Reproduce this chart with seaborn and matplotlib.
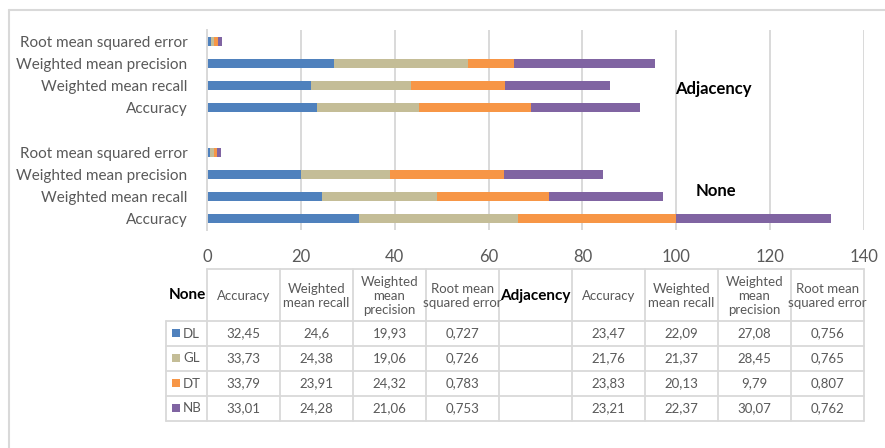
""" Stacked bar chart of model scores with a data table below """

import pandas as pd
import numpy as np
import matplotlib
matplotlib.use("Agg")
import matplotlib.pyplot as plt
import seaborn as sns

metrics = ["Accuracy", "Weighted mean recall", "Weighted mean precision", "Root mean squared error"]
models = ["DL", "GL", "DT", "NB"]
groups = ["None", "Adjacency"]

none_DL = [32.45, 24.6, 19.93, 0.727]
none_GL = [33.73, 24.38, 19.06, 0.726]
none_DT = [33.79, 23.91, 24.32, 0.783]
none_NB = [33.01, 24.28, 21.06, 0.753]

adj_DL = [23.47, 22.09, 27.08, 0.756]
adj_GL = [21.76, 21.37, 28.45, 0.765]
adj_DT = [23.83, 20.13, 9.79, 0.807]
adj_NB = [23.21, 22.37, 30.07, 0.762]

colors = {"DL": "#4F81BD", "GL": "#C4BD97", "DT": "#F79646", "NB": "#8064A2"}
grey = "#595959"
line_col = "#d9d9d9"

values = {
    "None": {"DL": none_DL, "GL": none_GL, "DT": none_DT, "NB": none_NB},
    "Adjacency": {"DL": adj_DL, "GL": adj_GL, "DT": adj_DT, "NB": adj_NB},
}

# Long dataframe with running totals for stacking
rows = []
for g in groups:
    cum = np.zeros(len(metrics))
    for m in models:
        cum = cum + np.array(values[g][m])
        for i, met in enumerate(metrics):
            rows.append({"key": g + "|" + met, "group": g, "metric": met,
                         "model": m, "value": values[g][m][i], "cum": cum[i]})
df = pd.DataFrame(rows)

# Order on the y axis (top to bottom), blank slot between groups
order = ["Adjacency|" + m for m in metrics[::-1]] + [" "] + ["None|" + m for m in metrics[::-1]]
ylabels = [k.split("|")[-1] if "|" in k else "" for k in order]

sns.set_theme(style="white")
plt.rcParams["font.family"] = ["Lato", "DejaVu Sans"]

W, H = 885, 448
fig = plt.figure(figsize=(W / 100, H / 100), dpi=100)

x0, x1, ytop, ybot = 207, 864, 30, 230
ax = fig.add_axes([x0 / W, 1 - ybot / H, (x1 - x0) / W, (ybot - ytop) / H])

# Draw largest running total first so the smaller ones sit on top
for m in models[::-1]:
    sns.barplot(data=df[df["model"] == m], y="key", x="cum", order=order,
                color=colors[m], width=0.41, orient="h", ax=ax, saturation=1,
                linewidth=0, edgecolor="none")

ax.set_xlim(0, 140)
ax.set_xticks(range(0, 141, 20))
ax.set_yticks(range(len(order)))
ax.set_yticklabels(ylabels)
ax.set_xlabel("")
ax.set_ylabel("")
ax.xaxis.grid(True, color=line_col, linewidth=1.4)
ax.set_axisbelow(True)
for s in ["top", "right", "bottom"]:
    ax.spines[s].set_visible(False)
ax.spines["left"].set_color(line_col)
ax.spines["left"].set_linewidth(1.4)
ax.tick_params(axis="y", length=0, pad=14, labelsize=11, labelcolor=grey)
ax.tick_params(axis="x", length=0, pad=14, labelsize=12, labelcolor=grey)

ax.text(108, 2.15, "Adjacency", fontsize=12, fontweight="bold", ha="center", va="center", color="black")
ax.text(108.5, 6.75, "None", fontsize=12, fontweight="bold", ha="center", va="center", color="black")

# Data table drawn in pixel coordinates on an overlay axes
tb = fig.add_axes([0, 0, 1, 1])
tb.set_xlim(0, W)
tb.set_ylim(H, 0)
tb.axis("off")
tb.patch.set_alpha(0)

# chart border
tb.plot([9, 9], [10, H], color=line_col, lw=1.5)
tb.plot([9, W], [10, 10], color=line_col, lw=1.5)

col_w = (x1 - x0) / 9
t_top, h_bot = 269, 321
row_h = 25
lab_x = 166

columns = [("None", m) for m in metrics] + [("Adjacency", None)] + [("Adjacency", m) for m in metrics]
header_txt = {"Accuracy": "Accuracy", "Weighted mean recall": "Weighted\nmean recall",
              "Weighted mean precision": "Weighted\nmean\nprecision",
              "Root mean squared error": "Root mean\nsquared error"}

# grid lines
tb.plot([x0, x1], [t_top, t_top], color=line_col, lw=1.3)
for r in range(5):
    y = h_bot + r * row_h
    tb.plot([lab_x, x1], [y, y], color=line_col, lw=1.3)
for c in range(10):
    x = x0 + c * col_w
    tb.plot([x, x], [t_top, h_bot + 4 * row_h], color=line_col, lw=1.3)
tb.plot([lab_x, lab_x], [h_bot, h_bot + 4 * row_h], color=line_col, lw=1.3)

# header
hy = (t_top + h_bot) / 2 + 1
tb.text((lab_x + x0) / 2 + 1, hy - 1, "None", fontsize=11, fontweight="bold", ha="center", va="center", color="black")
for c, (g, met) in enumerate(columns):
    cx = x0 + (c + 0.5) * col_w
    if met is None:
        tb.text(cx, hy, g, fontsize=11, fontweight="bold", ha="center", va="center", color="black")
    else:
        tb.text(cx, hy, header_txt[met], fontsize=9.5, ha="center", va="center",
                color=grey, linespacing=1.25)

# body
for r, m in enumerate(models):
    cy = h_bot + (r + 0.5) * row_h
    tb.add_patch(plt.Rectangle((172, cy - 4.5), 8, 8, color=colors[m], lw=0))
    tb.text(183, cy, m, fontsize=9.5, ha="left", va="center", color=grey)
    for c, (g, met) in enumerate(columns):
        if met is None:
            continue
        v = values[g][m][metrics.index(met)]
        cx = x0 + (c + 0.5) * col_w
        tb.text(cx, cy, str(v).replace(".", ","), fontsize=9.5, ha="center", va="center", color=grey)

fig.savefig("out.png", dpi=100)
